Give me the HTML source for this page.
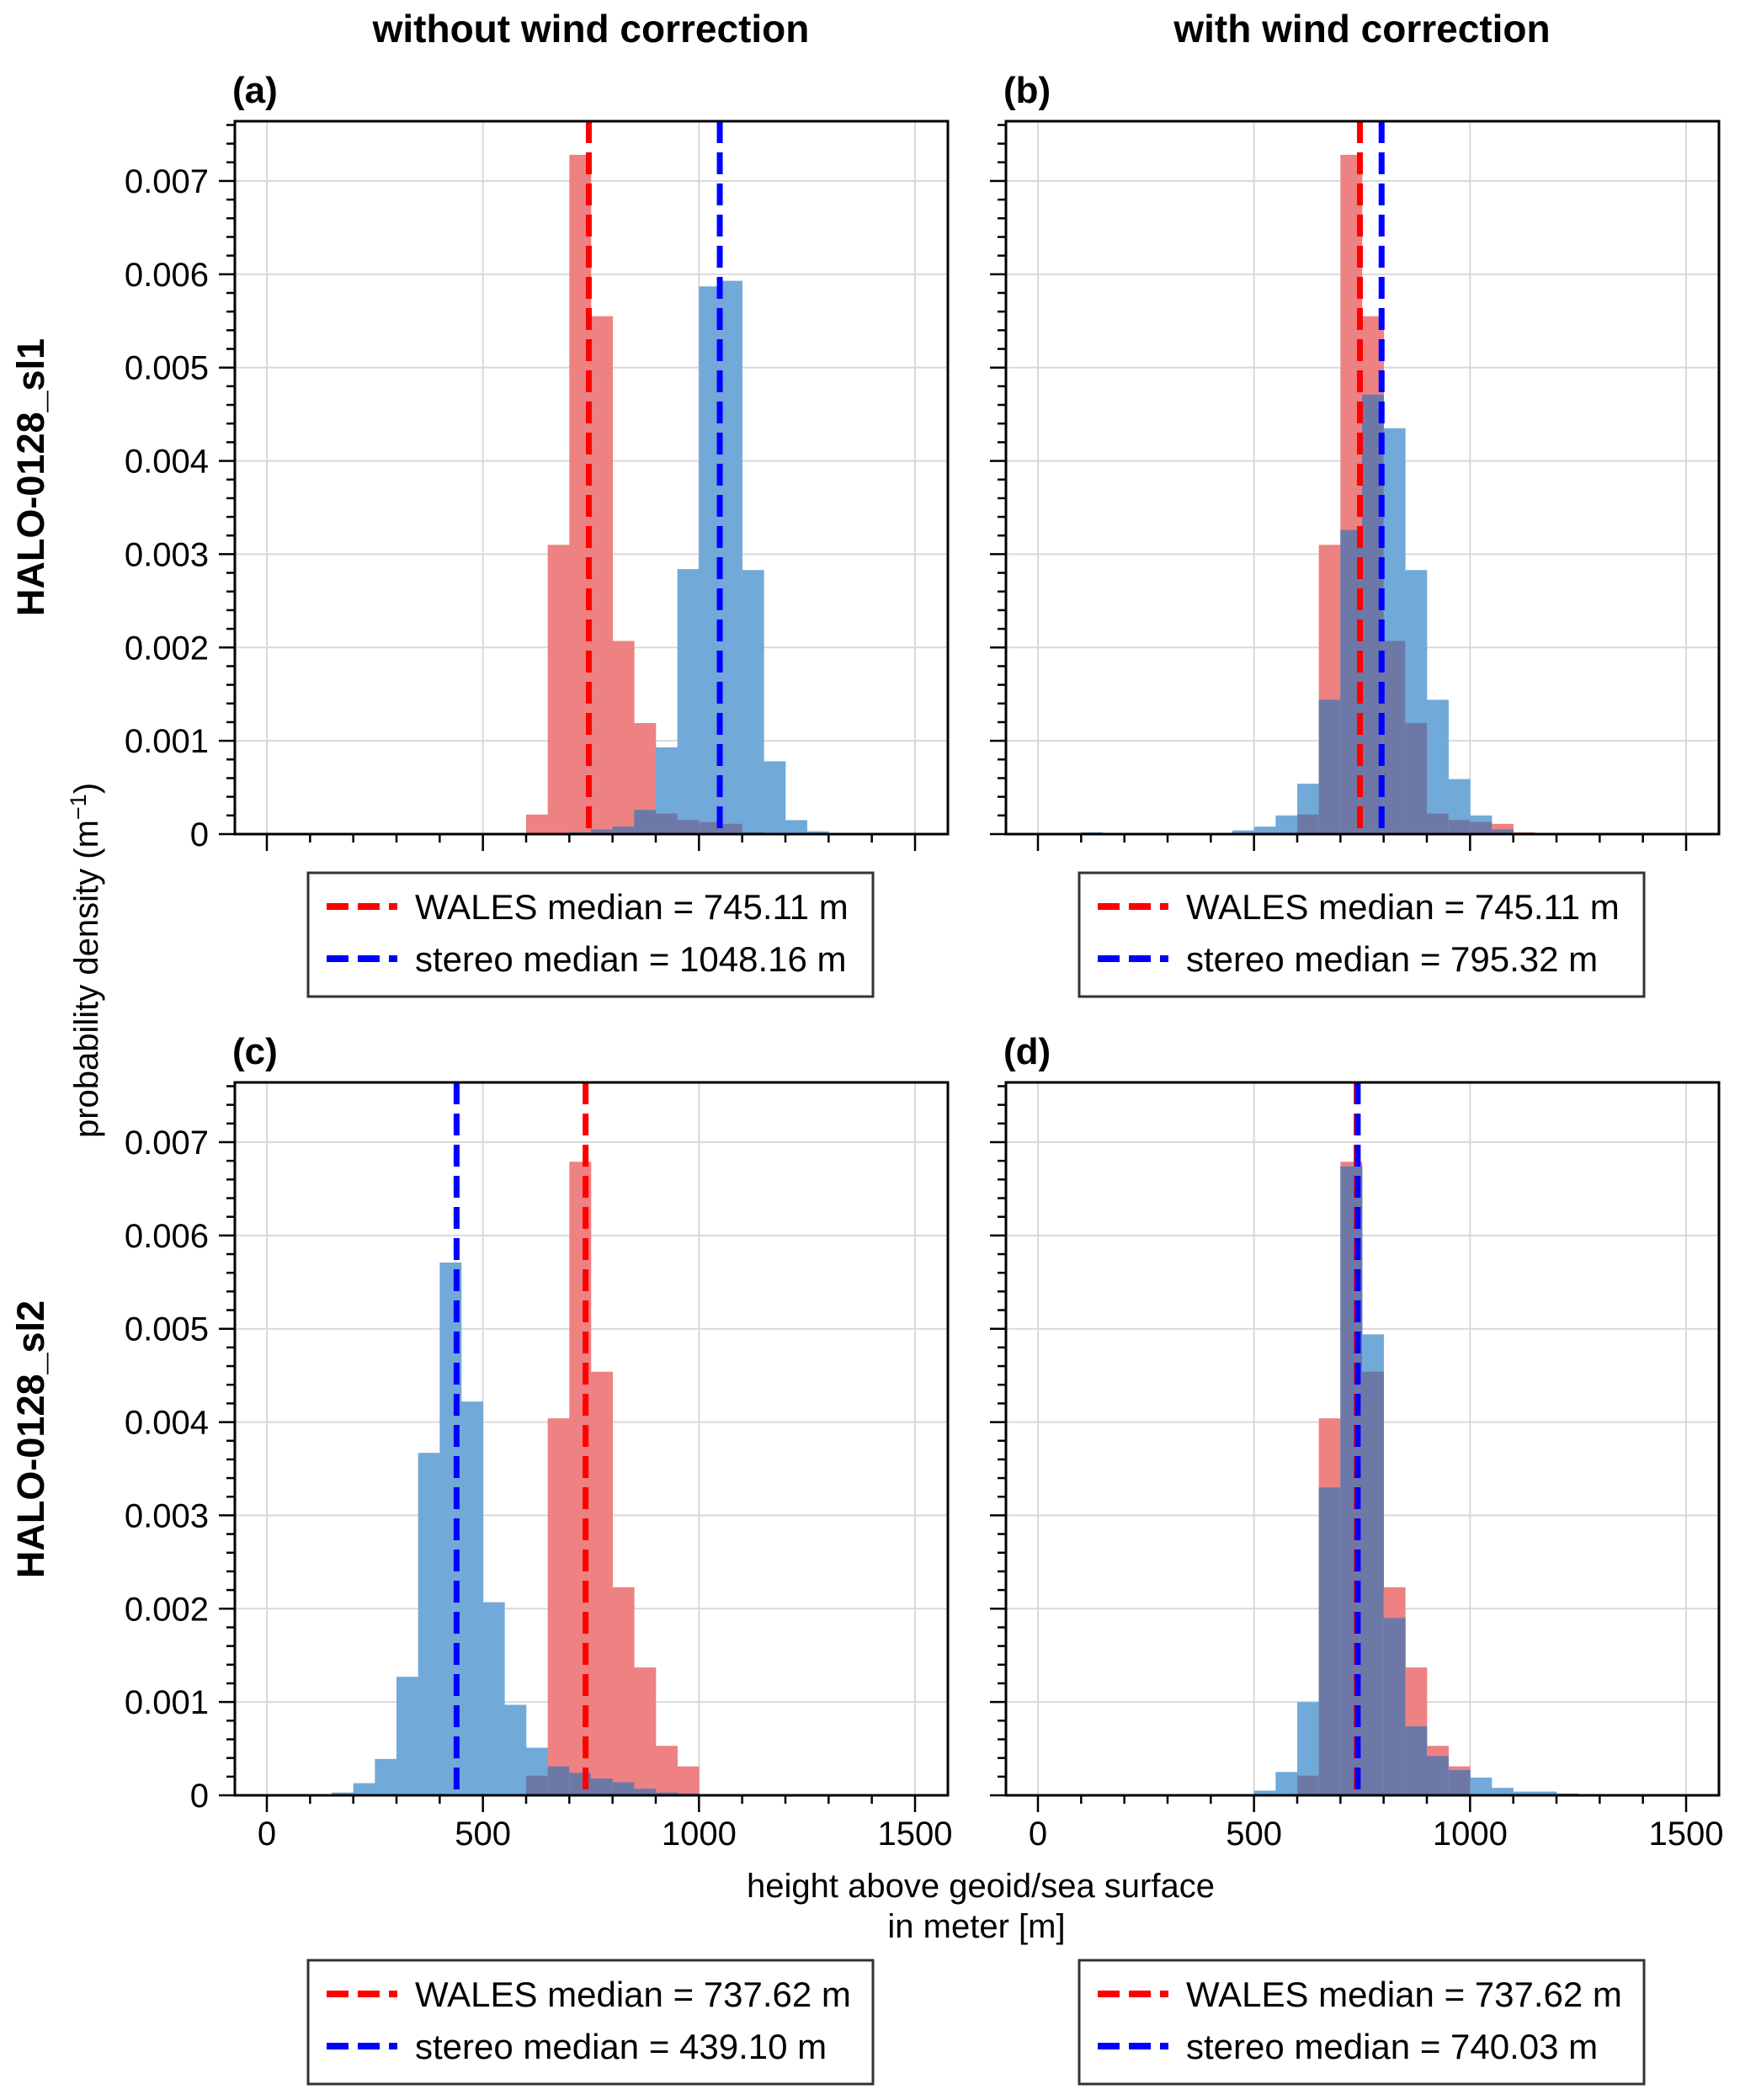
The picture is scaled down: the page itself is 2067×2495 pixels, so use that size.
<!DOCTYPE html>
<html><head><meta charset="utf-8">
<style>
html,body{margin:0;padding:0;background:#fff;}
svg{display:block;font-family:"Liberation Sans",Arial,sans-serif;}
</style></head>
<body>
<svg id="fig" xmlns="http://www.w3.org/2000/svg" width="2067" height="2495" viewBox="0 0 2067 2495">
<rect x="0" y="0" width="2067" height="2495" fill="#fff"/>
<text x="702" y="50" font-size="46" font-weight="bold" text-anchor="middle">without wind correction</text>
<text x="1618" y="50" font-size="46" font-weight="bold" text-anchor="middle">with wind correction</text>
<text transform="translate(52,567) rotate(-90)" font-size="45" font-weight="bold" text-anchor="middle">HALO-0128_sl1</text>
<text transform="translate(52,1710) rotate(-90)" font-size="45" font-weight="bold" text-anchor="middle">HALO-0128_sl2</text>
<text transform="translate(116,1141) rotate(-90)" font-size="40" text-anchor="middle">probability density (m<tspan dy="-14" font-size="27">−1</tspan><tspan dy="14">)</tspan></text>
<text x="1165" y="2254" font-size="40" text-anchor="middle">height above geoid/sea surface</text>
<text x="1160" y="2302" font-size="40" text-anchor="middle">in meter [m]</text>
<g id="panels"></g>
</svg>
<script>
// bin start edges (m), 50 m bins
const binEdges = [0,50,100,150,200,250,300,350,400,450,500,550,600,650,700,750,800,850,900,950,1000,1050,1100,1150,1200,1250,1300,1350,1400,1450];
const walesSl1 = [0,0,0,0,0,0,0,0,0,0,0,0,0.00021,0.0031,0.00728,0.00555,0.00207,0.00119,0.00022,0.00015,0.00013,0.00011,0.00002,0,0,0,0,0,0,0];
const stereoSl1NoWind = [0,0,0,0,0.00001,0.00001,0.00001,0.00001,0.00001,0.00001,0.00001,0.00001,0.00001,0.00001,0.00002,0.00005,0.00008,0.00026,0.00093,0.00284,0.00587,0.00593,0.00283,0.00078,0.00015,0.00003,0,0,0,0];
const stereoSl1Wind = [0,0,0.00002,0.00001,0.00001,0.00001,0.00001,0.00001,0.00001,0.00004,0.00008,0.0002,0.00054,0.00144,0.00326,0.00471,0.00435,0.00283,0.00144,0.00059,0.0002,0.00005,0.00001,0,0,0,0,0,0,0];
const walesSl2 = [0,0,0,0,0,0,0,0,0,0,0,0,0.00021,0.00404,0.00679,0.00454,0.00223,0.00137,0.00053,0.00031,0,0,0,0,0,0,0,0,0,0];
const stereoSl2NoWind = [0,0,0,0.00003,0.00013,0.00039,0.00127,0.00367,0.00571,0.00422,0.00207,0.00097,0.00051,0.00031,0.00024,0.00018,0.00014,0.00007,0.00003,0.00002,0.00001,0,0,0,0,0,0,0,0,0];
const stereoSl2Wind = [0,0,0,0,0,0,0,0,0,0,0.00005,0.00025,0.001,0.0033,0.00674,0.00494,0.0019,0.00074,0.00042,0.00027,0.00019,0.00008,0.00004,0.00004,0.00002,0,0,0,0,0];
const walesMedians = [745.11, 745.11, 737.62, 737.62];
const stereoMedians = [1048.16, 795.32, 439.10, 740.03];
const panelLetters = ["(a)","(b)","(c)","(d)"];
const xTickValues = [0,500,1000,1500];
const yTickValues = [0,0.001,0.002,0.003,0.004,0.005,0.006,0.007];
const yTickLabels = ["0","0.001","0.002","0.003","0.004","0.005","0.006","0.007"];

const NS="http://www.w3.org/2000/svg";
const root=document.getElementById('panels');
function mk(tag,attrs,parent){const e=document.createElementNS(NS,tag);for(const k in attrs)e.setAttribute(k,attrs[k]);(parent||root).appendChild(e);return e;}

const SIZE=847, BINW=50;
const panels=[
 {left:279,top:144,red:walesSl1,blue:stereoSl1NoWind,leftCol:true,bottomRow:false},
 {left:1195,top:144,red:walesSl1,blue:stereoSl1Wind,leftCol:false,bottomRow:false},
 {left:279,top:1286,red:walesSl2,blue:stereoSl2NoWind,leftCol:true,bottomRow:true},
 {left:1195,top:1286,red:walesSl2,blue:stereoSl2Wind,leftCol:false,bottomRow:true}
];
const RED="#ee8181", BLUE="#71a9d9", DARK="#6e78a7";

panels.forEach((p,pi)=>{
  const g=mk('g',{});
  
  
  const bottom=p.top+SIZE;
  const xs=v=>p.left+38+v*770/1500;
  const ys=v=>bottom-v*110857;
  xTickValues.forEach(v=>{const l=mk('line',{x1:xs(v),x2:xs(v),y1:p.top,y2:bottom,stroke:'#d9d9d9','stroke-width':2},g);
    });
  yTickValues.slice(1).forEach(v=>{const l=mk('line',{x1:p.left,x2:p.left+SIZE,y1:ys(v),y2:ys(v),stroke:'#d9d9d9','stroke-width':2},g);
    });
  binEdges.forEach((e,i)=>{
    const r=p.red[i], b=p.blue[i], m=Math.min(r,b);
    const x=xs(e), w=xs(e+BINW)-x;
    if(r>0){const el=mk('rect',{x:x,y:ys(r),width:w+0.3,height:bottom-ys(r),fill:RED},g);
      }
    if(b>0){const el=mk('rect',{x:x,y:ys(b),width:w+0.3,height:bottom-ys(b),fill:BLUE},g);
      }
    if(m>0){const el=mk('rect',{x:x,y:ys(m),width:w+0.3,height:bottom-ys(m),fill:DARK},g);
      }
  });
  const mr=mk('line',{x1:xs(walesMedians[pi]),x2:xs(walesMedians[pi]),y1:p.top,y2:bottom,stroke:'#ff0000','stroke-width':7,'stroke-dasharray':'26 11'},g);
  
  const mb=mk('line',{x1:xs(stereoMedians[pi]),x2:xs(stereoMedians[pi]),y1:p.top,y2:bottom,stroke:'#0000ff','stroke-width':7,'stroke-dasharray':'26 11'},g);
  
  const fr=mk('rect',{x:p.left,y:p.top,width:SIZE,height:SIZE,fill:'none',stroke:'#000','stroke-width':3},g);
  
  for(let k=0;k<=38;k++){const v=k*0.0002;const y=ys(v);if(y<p.top)break;
    const major=(k%5===0);
    mk('line',{x1:p.left-(major?19:10),x2:p.left,y1:y,y2:y,stroke:'#000','stroke-width':2.5},g);}
  if(p.leftCol){yTickValues.forEach((v,i)=>{const t=mk('text',{x:248,y:ys(v)+14,'font-size':40,'text-anchor':'end'},g);t.textContent=yTickLabels[i];
    });}
  for(let v=0;v<=1500;v+=100){const major=(v%500===0);
    mk('line',{x1:xs(v),x2:xs(v),y1:bottom,y2:bottom+(major?20:10),stroke:'#000','stroke-width':2.5},g);}
  if(p.bottomRow){xTickValues.forEach(v=>{const t=mk('text',{x:xs(v),y:bottom+59,'font-size':40,'text-anchor':'middle'},g);t.textContent=String(v);
    });}
  const pl=mk('text',{x:p.left-3,y:p.top-22,'font-size':44,'font-weight':'bold'},g);pl.textContent=panelLetters[pi];
  
  const ly=p.bottomRow?2329:1037, lx=p.left+87;
  const lg=mk('g',{},g);
  
  mk('rect',{x:lx,y:ly,width:671,height:147,fill:'#fff',stroke:'#333','stroke-width':3},lg);
  const rows=[['#ff0000','WALES median = '+walesMedians[pi].toFixed(2)+' m',40],['#0000ff','stereo median = '+stereoMedians[pi].toFixed(2)+' m',102]];
  rows.forEach(r=>{
    const ln=mk('line',{x1:lx+22,x2:lx+106,y1:ly+r[2],y2:ly+r[2],stroke:r[0],'stroke-width':8,'stroke-dasharray':'26 11'},lg);
    
    const t=mk('text',{x:lx+127,y:ly+r[2]+15,'font-size':42},lg);t.textContent=r[1];
    
  });
});
</script>
</body></html>
